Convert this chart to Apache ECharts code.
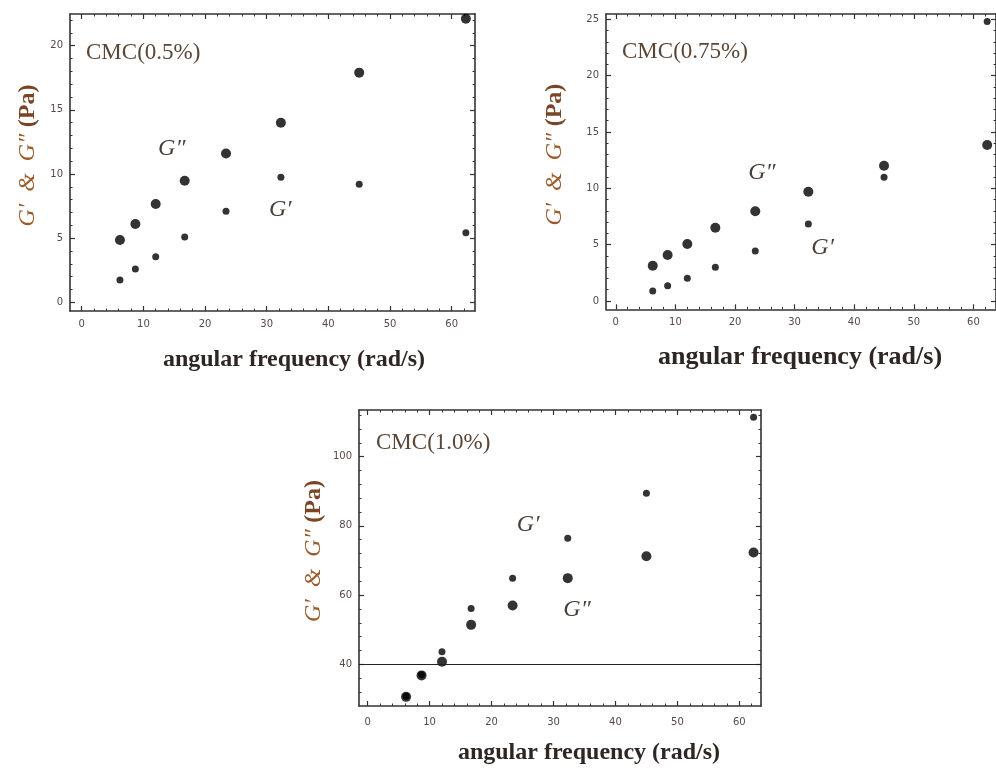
<!DOCTYPE html>
<html><head><meta charset="utf-8">
<script src="https://cdn.jsdelivr.net/npm/echarts@6/dist/echarts.min.js"></script>
<style>html,body{margin:0;padding:0;background:#fff}#c{width:996px;height:771px}</style>
</head><body><div id="c"></div>
<script>
// ---- data ----
const freq = [6.2, 8.7, 12.0, 16.7, 23.4, 32.3, 45.0, 62.3];
const gDouble05 = [4.86, 6.1, 7.66, 9.48, 11.6, 14.0, 17.9, 22.1];
const gSingle05 = [1.74, 2.6, 3.55, 5.1, 7.09, 9.74, 9.2, 5.43];
const gDouble075 = [3.13, 4.08, 5.06, 6.5, 7.96, 9.7, 12.0, 13.84];
const gSingle075 = [0.89, 1.36, 2.01, 2.99, 4.44, 6.83, 10.97, 24.8];
const gDouble10 = [30.6, 36.8, 40.75, 51.4, 57.0, 64.9, 71.2, 72.3];
const gSingle10 = [30.8, 37.0, 43.6, 56.1, 64.9, 76.4, 89.4, 111.4];
const panelTitles = ['CMC(0.5%)', 'CMC(0.75%)', 'CMC(1.0%)'];
const xTicks = [0, 10, 20, 30, 40, 50, 60];
const yTicks05 = [0, 5, 10, 15, 20];
const yTicks075 = [0, 5, 10, 15, 20, 25];
const yTicks10 = [40, 60, 80, 100];
const refLine10 = 40;
const xLabel = 'angular frequency (rad/s)';

// ---- layout / styles ----
const FRAME = '#333';
const TICKC = '#5a4848';
function stepTicks(from, to, step, majors) {
  const out = [];
  for (let v = from; v <= to + 1e-9; v += step) {
    const r = Math.round(v * 1000) / 1000;
    if (majors.indexOf(r) < 0) out.push(r);
  }
  return out;
}
const panels = [
  { grid: {left: 70, top: 14, width: 405, height: 297}, x: [-1.9, 63.78], y: [-0.676, 22.47],
    yMaj: yTicks05, yStep: 1, yMinFrom: 0, yMinTo: 22, dbl: gDouble05, sgl: gSingle05,
    nameGap: 30, ann: [[14.6, 12.0, 'G″'], [32.2, 7.2, 'G′']], xLabMargin: 8 },
  { grid: {left: 606, top: 14, width: 398, height: 295.3}, x: [-1.64, 63.78], y: [-0.74, 25.47],
    yMaj: yTicks075, yStep: 1, yMinFrom: 0, yMinTo: 25, dbl: gDouble075, sgl: gSingle075,
    nameGap: 39, ann: [[24.5, 11.4, 'G″'], [34.7, 4.7, 'G′']], xLabMargin: 8 },
  { grid: {left: 359, top: 410, width: 402, height: 296}, x: [-1.4, 63.5], y: [27.96, 113.48],
    yMaj: yTicks10, yStep: 4, yMinFrom: 32, yMinTo: 112, dbl: gDouble10, sgl: gSingle10,
    nameGap: 33, ann: [[25.9, 80.3, 'G′'], [33.8, 55.7, 'G″']], xLabMargin: 11, refLine: refLine10 }
];
const xMinor = stepTicks(0, 62, 2, xTicks);

const grids = [], xAxes = [], yAxes = [], series = [];
function mkAxis(gi, pos, range, majors, minors, showLabel, margin, extra) {
  const base = {type: 'value', gridIndex: gi, position: pos, min: range[0], max: range[1],
    splitLine: {show: false}, splitArea: {show: false}};
  const major = Object.assign({}, base, {
    axisLine: {show: true, onZero: false, lineStyle: {color: FRAME, width: 1.6}},
    axisTick: {show: true, inside: true, length: 5, customValues: majors, lineStyle: {color: FRAME, width: 1.2}},
    axisLabel: {show: showLabel, customValues: majors, margin: margin, color: TICKC,
      fontFamily: 'DejaVu Sans', fontSize: 10}
  }, extra || {});
  const minor = Object.assign({}, base, {
    axisLine: {show: false, onZero: false},
    axisTick: {show: true, inside: true, length: 2.5, customValues: minors, lineStyle: {color: FRAME, width: 1}},
    axisLabel: {show: false}
  });
  return [major, minor];
}
panels.forEach((p, gi) => {
  grids.push(Object.assign({containLabel: false}, p.grid));
  xAxes.push(...mkAxis(gi, 'bottom', p.x, xTicks, xMinor, true, p.xLabMargin));
  xAxes.push(...mkAxis(gi, 'top', p.x, xTicks, xMinor, false, 8));
  const yMinor = stepTicks(p.yMinFrom, p.yMinTo, p.yStep, p.yMaj);
  yAxes.push(...mkAxis(gi, 'left', p.y, p.yMaj, yMinor, true, 7, {
    name: '{i|G′  &  G″}  {b|(Pa)}', nameLocation: 'middle', nameRotate: 90, nameGap: p.nameGap,
    nameTextStyle: {padding: [0, 0, 0, 14], rich: {
      i: {fontFamily: 'Liberation Serif', fontStyle: 'italic', fontSize: 24, color: '#9a5a2a'},
      b: {fontFamily: 'Liberation Serif', fontWeight: 'bold', fontSize: 24, color: '#7a4526'}
    }}
  }));
  yAxes.push(...mkAxis(gi, 'right', p.y, p.yMaj, yMinor, false, 7));
  const ax = gi * 4;
  const annLabel = {show: true, position: 'inside', fontFamily: 'Liberation Serif', fontStyle: 'italic',
    fontSize: 24, color: '#4a3e36'};
  const sglSeries = {type: 'scatter', xAxisIndex: ax, yAxisIndex: ax, clip: false, symbolSize: 7,
    itemStyle: {color: '#000'}, silent: true, data: freq.map((f, k) => [f, p.sgl[k]]),
    markPoint: {symbol: 'rect', symbolSize: 1, itemStyle: {color: 'rgba(0,0,0,0)'}, silent: true,
      data: p.ann.map(a => ({coord: [a[0], a[1]], value: a[2], label: Object.assign({formatter: a[2]}, annLabel)}))}};
  const dblSeries = {type: 'scatter', xAxisIndex: ax, yAxisIndex: ax, clip: false, symbolSize: 10,
    itemStyle: {color: '#000'}, silent: true, data: freq.map((f, k) => [f, p.dbl[k]])};
  if (p.refLine !== undefined) {
    dblSeries.markLine = {symbol: 'none', silent: true, label: {show: false},
      lineStyle: {color: '#222', width: 1.2, type: 'solid'}, data: [{yAxis: p.refLine}]};
  }
  series.push(sglSeries, dblSeries);
});

const titleFont = '23px "Liberation Serif"';
const xLabFont = 'bold 24px "Liberation Serif"';
const graphic = [
  {type: 'text', x: 86, y: 53, style: {text: panelTitles[0], font: titleFont, fill: '#5a4636', verticalAlign: 'middle'}},
  {type: 'text', x: 622, y: 52, style: {text: panelTitles[1], font: titleFont, fill: '#5a4636', verticalAlign: 'middle'}},
  {type: 'text', x: 376, y: 443, style: {text: panelTitles[2], font: titleFont, fill: '#5a4636', verticalAlign: 'middle'}},
  {type: 'text', x: 294, y: 360, style: {text: xLabel, font: xLabFont, fill: '#2e2622', align: 'center', verticalAlign: 'middle'}},
  {type: 'text', x: 800, y: 357, style: {text: xLabel, font: 'bold 26px "Liberation Serif"', fill: '#2e2622', align: 'center', verticalAlign: 'middle'}},
  {type: 'text', x: 589, y: 753, style: {text: xLabel, font: xLabFont, fill: '#2e2622', align: 'center', verticalAlign: 'middle'}}
];

const chart = echarts.init(document.getElementById('c'), null, {renderer: 'canvas'});
chart.setOption({animation: false, backgroundColor: '#fff', grid: grids, xAxis: xAxes, yAxis: yAxes,
  series: series, graphic: graphic});
</script></body></html>
